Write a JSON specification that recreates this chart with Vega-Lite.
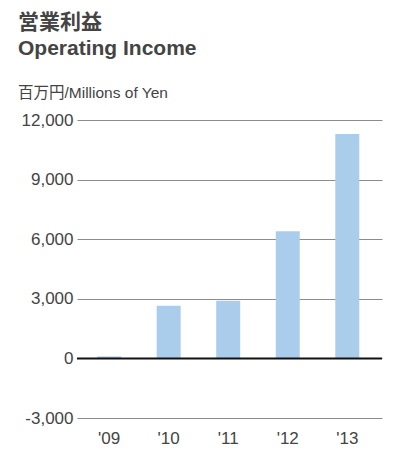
{
  "$schema": "https://vega.github.io/schema/vega-lite/v6.json",
  "autosize": "none",
  "width": 305,
  "height": 298,
  "padding": {"left": 77, "top": 120, "right": 16, "bottom": 36},
  "background": "#ffffff",
  "config": {
    "font": "Liberation Sans, Noto Sans CJK JP",
    "view": {"stroke": null}
  },
  "title": {
    "text": ["営業利益", "Operating Income"],
    "subtitle": "百万円/Millions of Yen",
    "anchor": "start",
    "frame": "group",
    "dx": -59,
    "offset": 10,
    "fontSize": 21,
    "fontWeight": "bold",
    "lineHeight": 26,
    "color": "#444444",
    "subtitleFontSize": 15.5,
    "subtitleColor": "#444444",
    "subtitlePadding": 27,
    "font": "Liberation Sans, Noto Sans CJK JP",
    "subtitleFont": "Liberation Sans, Noto Sans CJK JP"
  },
  "data": {
    "values": [
      {"year": "'09", "income": 100},
      {"year": "'10", "income": 2650},
      {"year": "'11", "income": 2900},
      {"year": "'12", "income": 6400},
      {"year": "'13", "income": 11300}
    ]
  },
  "layer": [
    {
      "mark": {"type": "bar", "color": "#abcdec"},
      "encoding": {
        "x": {
          "field": "year",
          "type": "ordinal",
          "scale": {"paddingInner": 0.597, "paddingOuter": 0.36, "align": 0.47},
          "axis": {
            "title": null,
            "labelAngle": 0,
            "ticks": false,
            "domain": false,
            "labelFontSize": 17,
            "labelColor": "#444444",
            "labelPadding": 12,
            "labelFont": "Liberation Sans"
          }
        },
        "y": {
          "field": "income",
          "type": "quantitative",
          "scale": {"domain": [-3000, 12000], "nice": false},
          "axis": {
            "title": null,
            "values": [-3000, 0, 3000, 6000, 9000, 12000],
            "labelExpr": "datum.value < 0 ? '-' + format(-datum.value, ',d') : format(datum.value, ',d')",
            "ticks": false,
            "domain": false,
            "gridColor": "#8c8c8c",
            "gridWidth": 1,
            "gridOpacity": 1,
            "labelFontSize": 17,
            "labelColor": "#444444",
            "labelPadding": 4,
            "labelFont": "Liberation Sans"
          }
        }
      }
    },
    {
      "data": {"values": [{"zero": 0}]},
      "mark": {"type": "rule", "color": "#111111", "strokeWidth": 2},
      "encoding": {"y": {"field": "zero", "type": "quantitative"}}
    }
  ]
}
